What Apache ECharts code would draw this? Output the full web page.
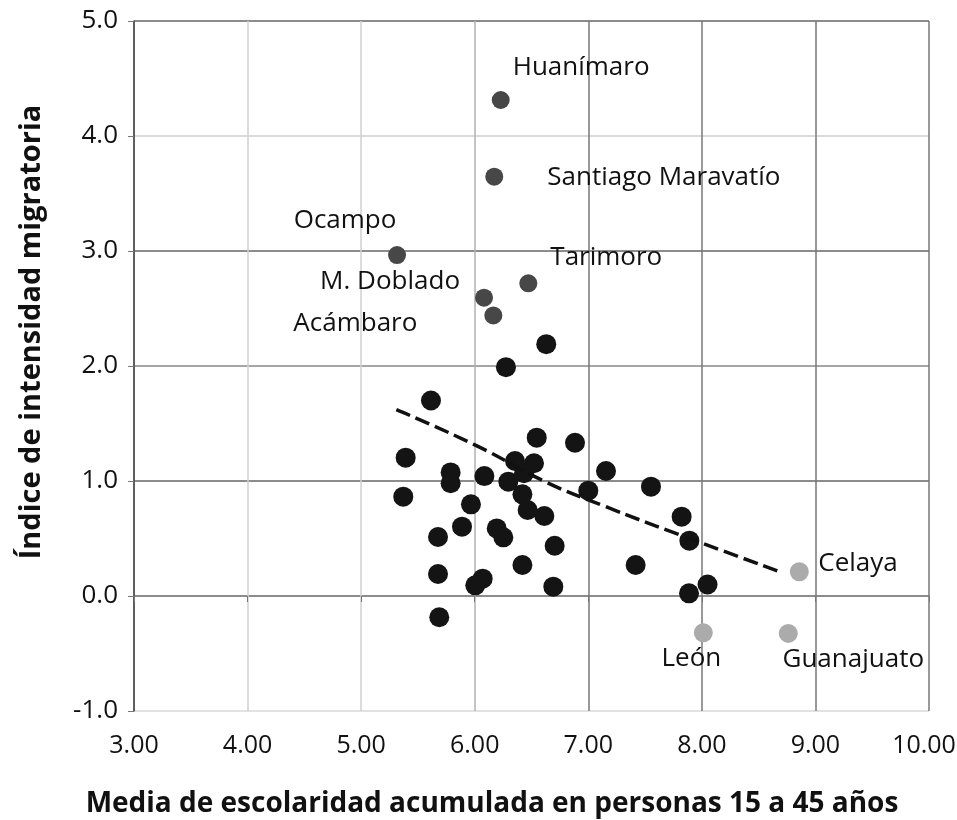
<!DOCTYPE html>
<html>
<head>
<meta charset="utf-8">
<script src="https://cdn.jsdelivr.net/npm/echarts@6/dist/echarts.min.js"></script>
<style>html,body{margin:0;padding:0;background:#fff}#c{width:957px;height:820px}</style>
</head>
<body>
<div id="c"></div>
<script>
// Unlabelled municipalities [escolaridad, índice]
const blackPoints = [
  [6.63,2.19],[6.275,1.99],[5.615,1.70],[6.546,1.377],[6.883,1.333],[5.392,1.203],
  [6.355,1.174],[6.522,1.154],[7.156,1.087],[5.788,1.075],[6.085,1.043],[6.434,1.067],
  [5.788,0.98],[6.296,0.994],[7.552,0.951],[7.0,0.916],[5.371,0.864],[6.42,0.884],
  [5.967,0.797],[6.466,0.748],[6.613,0.696],[5.888,0.603],[6.194,0.588],[6.252,0.51],
  [5.677,0.513],[6.704,0.437],[6.42,0.27],[5.677,0.191],[6.07,0.151],[6.005,0.093],
  [6.692,0.081],[5.688,-0.185],[7.822,0.69],[7.89,0.481],[7.417,0.27],[8.05,0.10],[7.887,0.023]
];
// High-migration municipalities
const highNames = ['Huanímaro','Santiago Maravatío','Ocampo','Tarimoro','M. Doblado','Acámbaro'];
const highX = [6.229, 6.172, 5.316, 6.472, 6.082, 6.164];
const highY = [4.313, 3.646, 2.965, 2.719, 2.594, 2.44];
// Urban municipalities
const urbanNames = ['Celaya','León','Guanajuato'];
const urbanX = [8.858, 8.013, 8.761];
const urbanY = [0.211, -0.319, -0.325];
// Trend line
const trendX = [5.31, 6.01, 6.63, 7.12, 7.81, 8.69];
const trendY = [1.62, 1.31, 0.99, 0.79, 0.53, 0.21];

const xTicks = [3,4,5,6,7,8,9,10];
const yTicks = [-1,0,1,2,3,4,5];

const FONT = '"Open Sans"';
const labelCfg = {
  'Huanímaro': {align:'left', offset:[12,-32]},
  'Santiago Maravatío': {align:'left', offset:[53,1]},
  'Ocampo': {align:'center', offset:[-52,-34]},
  'Tarimoro': {align:'left', offset:[22,-26]},
  'M. Doblado': {align:'right', offset:[-24,-16]},
  'Acámbaro': {align:'right', offset:[-76,8]},
  'Celaya': {align:'left', offset:[19,-8]},
  'León': {align:'center', offset:[-12,26]},
  'Guanajuato': {align:'center', offset:[65,26]}
};
function mk(names, xs, ys){
  return names.map((n,i)=>({
    name:n, value:[xs[i], ys[i]],
    label:{show:true, position:'inside', formatter:n, align:labelCfg[n].align,
      verticalAlign:'middle', offset:labelCfg[n].offset,
      color:'#111', fontFamily:FONT, fontSize:26}
  }));
}

const chart = echarts.init(document.getElementById('c'));
chart.setOption({
  animation:false,
  backgroundColor:'#fff',
  grid:{left:134, right:28, top:21, bottom:109, outerBoundsMode:'none', containLabel:false},
  xAxis:{
    type:'value', min:3, max:10, interval:1,
    name:'Media de escolaridad acumulada en personas 15 a 45 años',
    nameLocation:'middle', nameGap:79,
    nameTextStyle:{fontFamily:FONT, fontWeight:'bold', fontSize:28, color:'#111', padding:[0,79,0,0]},
    axisLine:{show:false},
    axisTick:{show:true, inside:false, length:6, lineStyle:{color:'#777'}},
    axisLabel:{margin:22, fontFamily:FONT, fontSize:25, color:'#111',
      formatter:v=> v===xTicks[xTicks.length-1] ? '{a|'+v.toFixed(2)+'}{sp| }' : '{a|'+v.toFixed(2)+'}',
      rich:{a:{fontFamily:FONT, fontSize:25, color:'#111'}, sp:{fontFamily:FONT, fontSize:25, width:10}}},
    splitLine:{show:true, lineStyle:{width:1.5, color:['#555','#d0d0d0','#d0d0d0','#b0b0b0','#777','#777','#777','#777']}}
  },
  yAxis:{
    type:'value', min:-1, max:5, interval:1,
    name:'Índice de intensidad migratoria',
    nameLocation:'middle', nameGap:88, nameRotate:90,
    nameTextStyle:{fontFamily:FONT, fontWeight:'bold', fontSize:29, color:'#111', padding:[0,0,0,68]},
    axisLine:{show:true, lineStyle:{color:'#555', width:1.5}},
    axisTick:{show:true, length:6, lineStyle:{color:'#777'}},
    axisLabel:{margin:16, fontFamily:FONT, fontSize:26, color:'#111', formatter:v=>v.toFixed(1)},
    splitLine:{show:true, lineStyle:{width:1.5, color:['#d8d8d8','#666','#666','#888','#666','#cfcfcf','#666']}}
  },
  series:[
    {type:'scatter', data:blackPoints, symbolSize:20, itemStyle:{color:'#141414', opacity:1}, z:2},
    {type:'scatter', data:mk(highNames, highX, highY), symbolSize:18, itemStyle:{color:'#474747', opacity:1}, z:2},
    {type:'scatter', data:mk(urbanNames, urbanX, urbanY), symbolSize:19, itemStyle:{color:'#ababab', opacity:1}, z:2},
    {type:'line', data:trendX.map((x,i)=>[x, trendY[i]]), smooth:true, showSymbol:false, symbol:'none',
      lineStyle:{color:'#111', width:3.5, type:[15,6]}, z:3}
  ]
});
</script>
</body>
</html>
